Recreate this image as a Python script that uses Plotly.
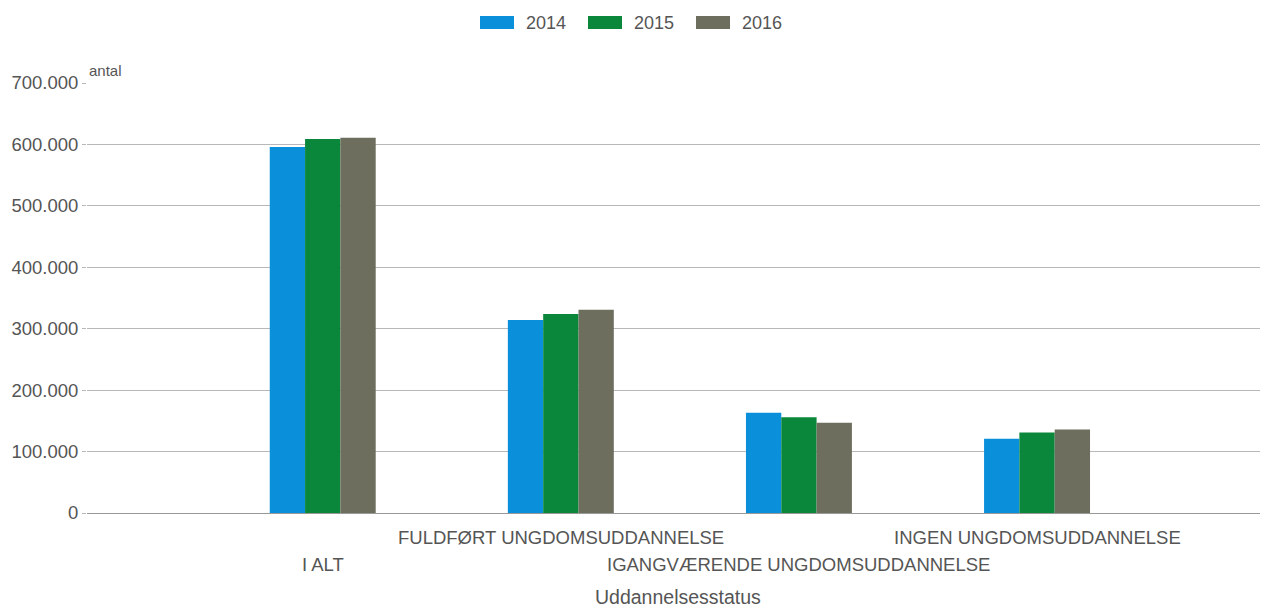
import plotly.graph_objects as go

categories = ["I ALT", "FULDFØRT UNGDOMSUDDANNELSE", "IGANGVÆRENDE UNGDOMSUDDANNELSE", "INGEN UNGDOMSUDDANNELSE"]
years = ["2014", "2015", "2016"]
values_2014 = [596000, 314000, 163000, 121000]
values_2015 = [609000, 324000, 156000, 131000]
values_2016 = [611000, 331000, 147000, 136000]
colors = ["#0a8fda", "#0a873a", "#6e6e5e"]
y_ticks = [0, 100000, 200000, 300000, 400000, 500000, 600000, 700000]

OFF = 8  # page body margin
W, H = 1268 - OFF, 608 - OFF
L, R, T, B = 87 - OFF, 0, 83 - OFF, 95
pw, ph = W - L - R, H - T - B
FONT = "Liberation Sans, Arial, sans-serif"
TXT = "#555555"


def px_x(p):
    return (p - OFF - L) / pw


def px_y(p):
    return (H - B - (p - OFF)) / ph


fig = go.Figure()
series = [values_2014, values_2015, values_2016]
for name, vals, col in zip(years, series, colors):
    fig.add_trace(go.Bar(x=list(range(len(categories))), y=vals, name=name,
                         marker=dict(color=col, line=dict(width=0)), showlegend=False))

annotations = []
# staggered category labels
for i, cat in enumerate(categories):
    shift = -39 if i % 2 == 0 else -12
    annotations.append(dict(x=i, y=0, xref="x", yref="paper", text=cat, showarrow=False,
                            yanchor="top", xanchor="center", yshift=shift,
                            font=dict(family=FONT, size=18.5, color=TXT)))
annotations.append(dict(x=0.5, y=0, xref="paper", yref="paper", text="Uddannelsesstatus",
                        showarrow=False, yanchor="top", xanchor="center", yshift=-71,
                        font=dict(family=FONT, size=19.5, color=TXT)))
annotations.append(dict(x=0, y=1, xref="paper", yref="paper", text="antal",
                        showarrow=False, yanchor="bottom", xanchor="left", xshift=0, yshift=2,
                        font=dict(family=FONT, size=15, color=TXT)))

shapes = []
for k, (name, col) in enumerate(zip(years, colors)):
    x0 = 480 + 108 * k
    shapes.append(dict(type="rect", xref="paper", yref="paper",
                       x0=px_x(x0), x1=px_x(x0 + 34), y0=px_y(29), y1=px_y(16),
                       fillcolor=col, line=dict(width=0)))
    annotations.append(dict(x=px_x(x0 + 44), y=px_y(22.5), xref="paper", yref="paper",
                            text=name, showarrow=False, xanchor="left", yanchor="middle",
                            font=dict(family=FONT, size=18, color=TXT)))

fig.update_layout(
    width=W, height=H,
    margin=dict(l=L, r=R, t=T, b=B),
    paper_bgcolor="white", plot_bgcolor="white",
    separators=",.",
    barmode="group", bargap=0.555, bargroupgap=0,
    font=dict(family=FONT, size=17, color=TXT),
    annotations=annotations, shapes=shapes,
    xaxis=dict(range=[-0.99, 3.97], showticklabels=False, showgrid=False, zeroline=False,
               showline=True, linecolor="#999999", linewidth=1, ticks=""),
    yaxis=dict(range=[0, 700000], tickvals=y_ticks, tickformat=",d", showgrid=True,
               gridcolor="#b8b8b8", gridwidth=1, zeroline=False, showline=False,
               ticks="outside", ticklen=4, tickcolor="#b8b8b8",
               tickfont=dict(family=FONT, size=18.5, color=TXT)),
)

fig.write_html("out.html")
